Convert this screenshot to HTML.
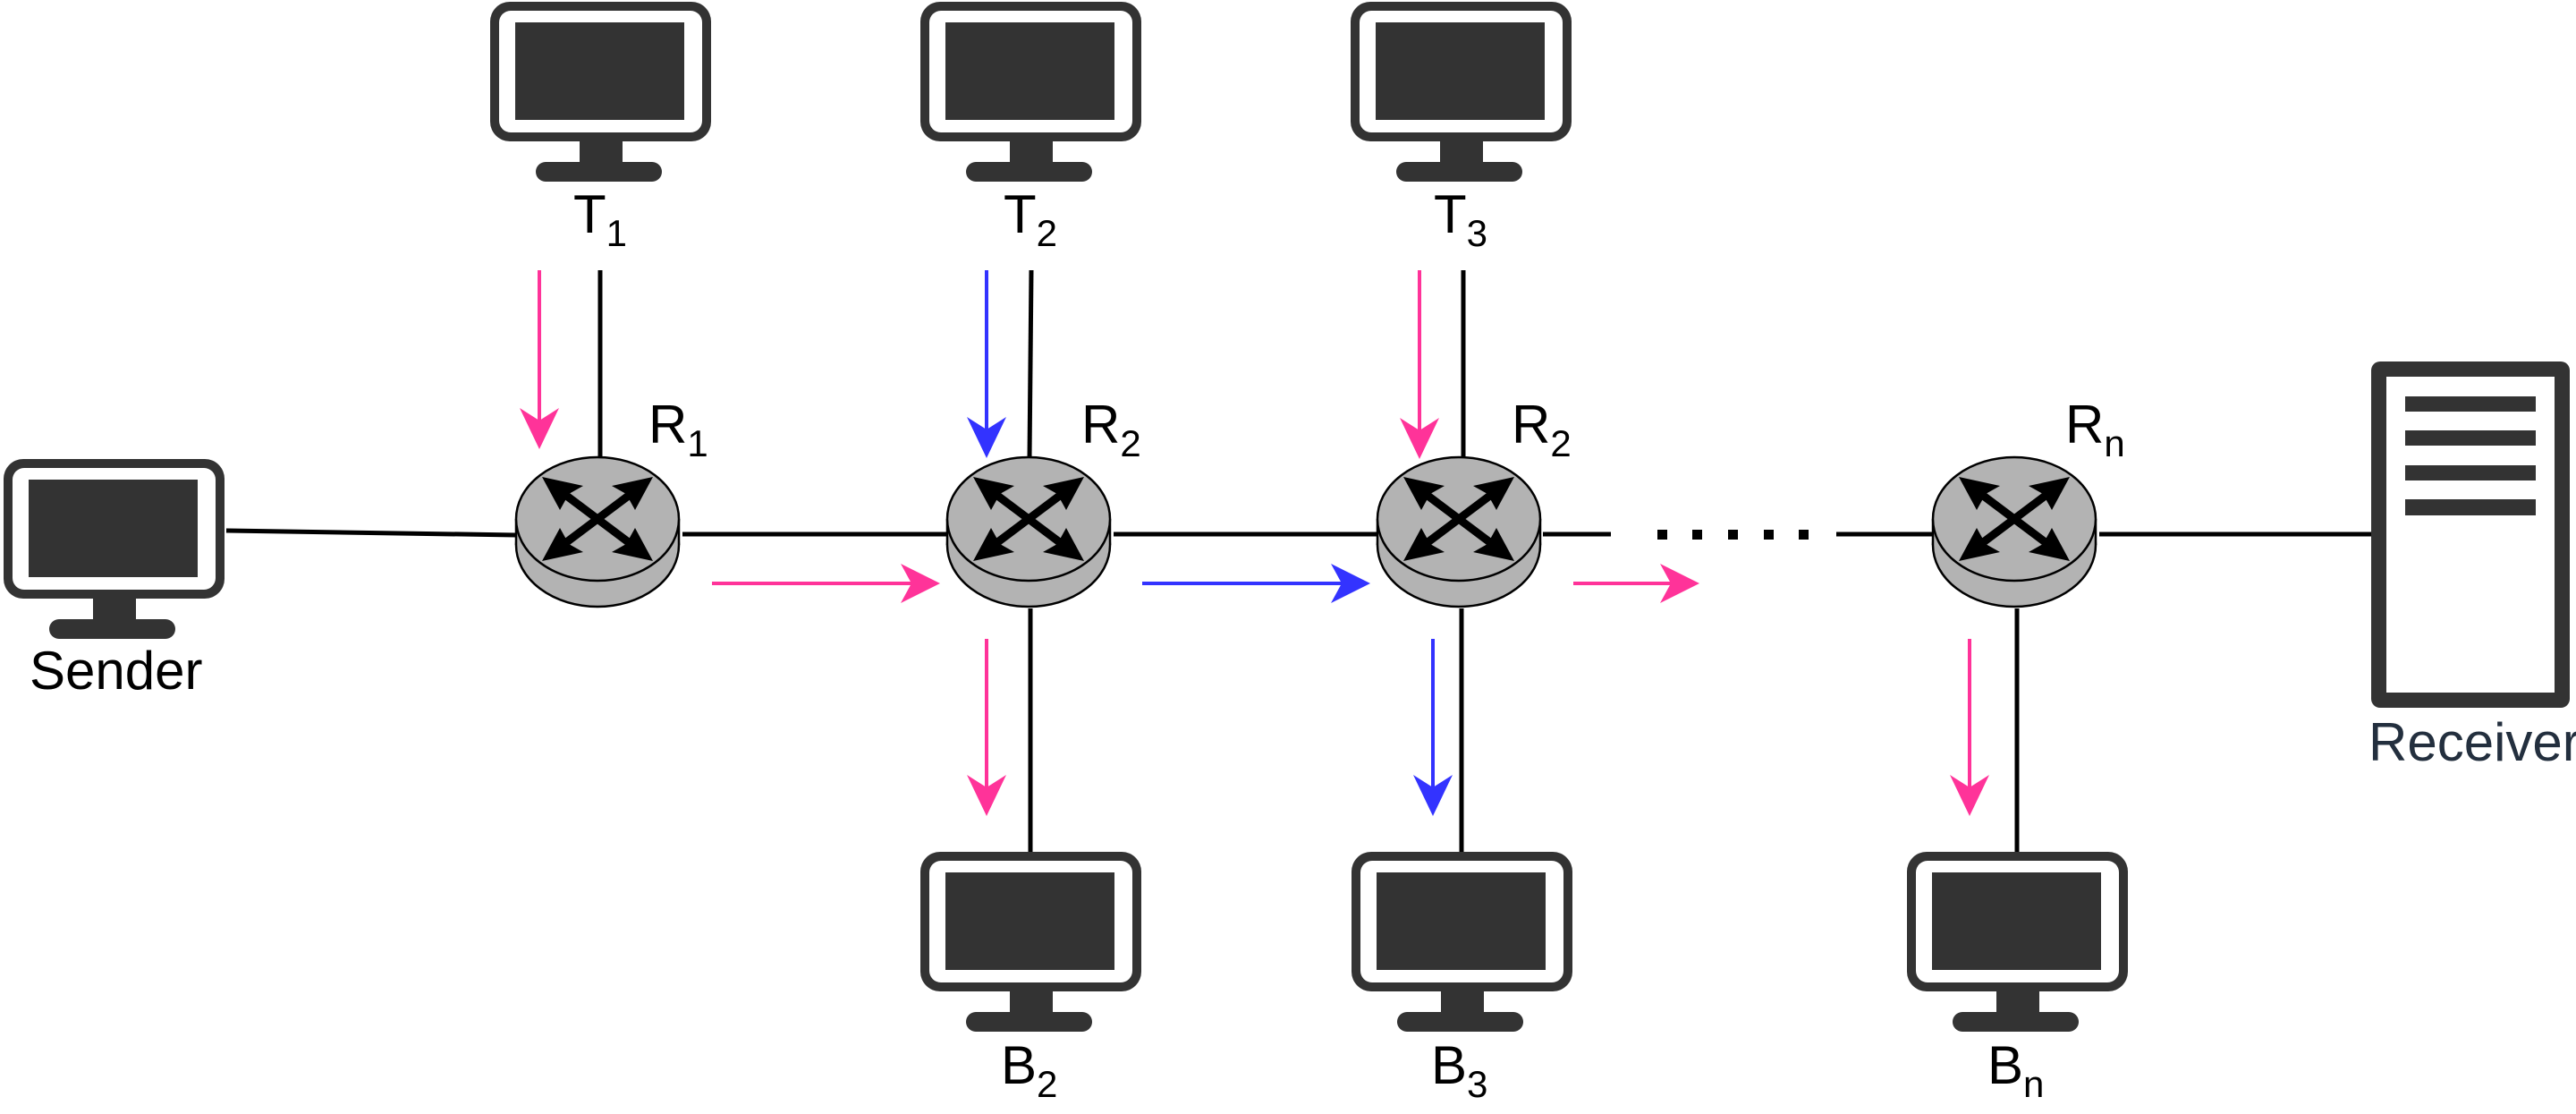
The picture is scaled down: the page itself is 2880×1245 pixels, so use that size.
<!DOCTYPE html>
<html><head><meta charset="utf-8"><style>
html,body{margin:0;padding:0;background:#fff;}
svg{display:block;}
text{font-family:"Liberation Sans",sans-serif;}
</style></head><body>
<svg width="2880" height="1245" viewBox="0 0 2880 1245" xmlns="http://www.w3.org/2000/svg">
<defs>
<g id="mon">
<rect x="-123" y="0" width="247" height="156" rx="22" fill="#333"/>
<rect x="-113" y="10" width="227" height="136" rx="13" fill="#fff"/>
<rect x="-95" y="23" width="189" height="109" fill="#333"/>
<rect x="-23" y="154" width="48" height="27" fill="#333"/>
<rect x="-72" y="179" width="141" height="22" rx="11" fill="#333"/>
</g>
<g id="rtr">
<ellipse cx="0" cy="29" rx="91" ry="69" fill="#b3b3b3" stroke="#000" stroke-width="2.5"/>
<rect x="-91" y="0" width="182" height="29" fill="#b3b3b3"/>
<line x1="-91" y1="0" x2="-91" y2="29" stroke="#000" stroke-width="2.5"/>
<line x1="91" y1="0" x2="91" y2="29" stroke="#000" stroke-width="2.5"/>
<ellipse cx="0" cy="0" rx="91" ry="69" fill="#b3b3b3" stroke="#000" stroke-width="2.5"/>
<line x1="-40" y1="-30" x2="40" y2="30" stroke="#000" stroke-width="9"/>
<line x1="40" y1="-30" x2="-40" y2="30" stroke="#000" stroke-width="9"/>
<polygon points="-62,-47 -16,-37 -32,-28 -42,-10" fill="#000"/>
<polygon points="62,47 16,37 32,28 42,10" fill="#000"/>
<polygon points="62,-47 16,-37 32,-28 42,-10" fill="#000"/>
<polygon points="-62,47 -16,37 -32,28 -42,10" fill="#000"/>
</g>
</defs>

<g stroke="#000" stroke-width="5" fill="none">
<line x1="253" y1="593" x2="577" y2="598"/>
<line x1="763" y1="597" x2="1059" y2="597"/>
<line x1="1245" y1="597" x2="1540" y2="597"/>
<line x1="1725" y1="597" x2="1801" y2="597"/>
<line x1="2053" y1="597" x2="2163" y2="597"/>
<line x1="2347" y1="597" x2="2651" y2="597"/>
<line x1="671" y1="302" x2="671" y2="512"/>
<line x1="1153" y1="302" x2="1151" y2="512"/>
<line x1="1636" y1="302" x2="1636" y2="512"/>
<line x1="1152" y1="680" x2="1152" y2="952"/>
<line x1="1634" y1="680" x2="1634" y2="952"/>
<line x1="2255" y1="680" x2="2255" y2="952"/>
</g>
<g fill="#000">
<rect x="1853" y="592" width="11" height="11"/><rect x="1892" y="592" width="11" height="11"/><rect x="1932" y="592" width="11" height="11"/><rect x="1972" y="592" width="11" height="11"/><rect x="2011" y="592" width="11" height="11"/>
</g>

<use href="#rtr" x="668" y="580"/>
<use href="#rtr" x="1150" y="580"/>
<use href="#rtr" x="1631" y="580"/>
<use href="#rtr" x="2252" y="580"/>

<use href="#mon" x="127" y="513"/>
<use href="#mon" x="671" y="2"/>
<use href="#mon" x="1152" y="2"/>
<use href="#mon" x="1633" y="2"/>
<use href="#mon" x="1152" y="952"/>
<use href="#mon" x="1634" y="952"/>
<use href="#mon" x="2255" y="952"/>

<g>
<rect x="2651" y="404" width="222" height="387" rx="10" fill="#333"/>
<rect x="2668" y="421" width="188" height="353" fill="#fff"/>
<rect x="2689" y="443" width="146" height="17" fill="#333"/>
<rect x="2689" y="481" width="146" height="17" fill="#333"/>
<rect x="2689" y="520" width="146" height="17" fill="#333"/>
<rect x="2689" y="558" width="146" height="18" fill="#333"/>
</g>

<g stroke-width="4">
<g><line x1="603" y1="302" x2="603" y2="472" stroke="#ff3399"/><polygon points="603,502 581,456 603,470 625,456" fill="#ff3399"/></g>
<g><line x1="1103" y1="302" x2="1103" y2="482" stroke="#3333ff"/><polygon points="1103,512 1081,466 1103,480 1125,466" fill="#3333ff"/></g>
<g><line x1="1587" y1="302" x2="1587" y2="483" stroke="#ff3399"/><polygon points="1587,513 1565,467 1587,481 1609,467" fill="#ff3399"/></g>
<g><line x1="796" y1="652" x2="1021" y2="652" stroke="#ff3399"/><polygon points="1051,652 1007,630 1019,652 1007,674" fill="#ff3399"/></g>
<g><line x1="1277" y1="652" x2="1502" y2="652" stroke="#3333ff"/><polygon points="1532,652 1488,630 1500,652 1488,674" fill="#3333ff"/></g>
<g><line x1="1759" y1="652" x2="1870" y2="652" stroke="#ff3399"/><polygon points="1900,652 1856,630 1868,652 1856,674" fill="#ff3399"/></g>
<g><line x1="1103" y1="714" x2="1103" y2="882" stroke="#ff3399"/><polygon points="1103,912 1081,866 1103,880 1125,866" fill="#ff3399"/></g>
<g><line x1="1602" y1="714" x2="1602" y2="882" stroke="#3333ff"/><polygon points="1602,912 1580,866 1602,880 1624,866" fill="#3333ff"/></g>
<g><line x1="2202" y1="714" x2="2202" y2="882" stroke="#ff3399"/><polygon points="2202,912 2180,866 2202,880 2224,866" fill="#ff3399"/></g>
</g>

<g font-size="60" fill="#000">
<text x="33" y="770">Sender</text>
<text x="2648" y="850" fill="#232f3e">Receiver</text>
<text x="641" y="260">T<tspan font-size="42" dy="15">1</tspan></text>
<text x="1122" y="260">T<tspan font-size="42" dy="15">2</tspan></text>
<text x="1603" y="260">T<tspan font-size="42" dy="15">3</tspan></text>
<text x="725" y="495">R<tspan font-size="42" dy="15">1</tspan></text>
<text x="1209" y="495">R<tspan font-size="42" dy="15">2</tspan></text>
<text x="1690" y="495">R<tspan font-size="42" dy="15">2</tspan></text>
<text x="2309" y="495">R<tspan font-size="42" dy="15">n</tspan></text>
<text x="1119" y="1211">B<tspan font-size="42" dy="15">2</tspan></text>
<text x="1600" y="1211">B<tspan font-size="42" dy="15">3</tspan></text>
<text x="2222" y="1211">B<tspan font-size="42" dy="15">n</tspan></text>
</g>
</svg>
</body></html>
